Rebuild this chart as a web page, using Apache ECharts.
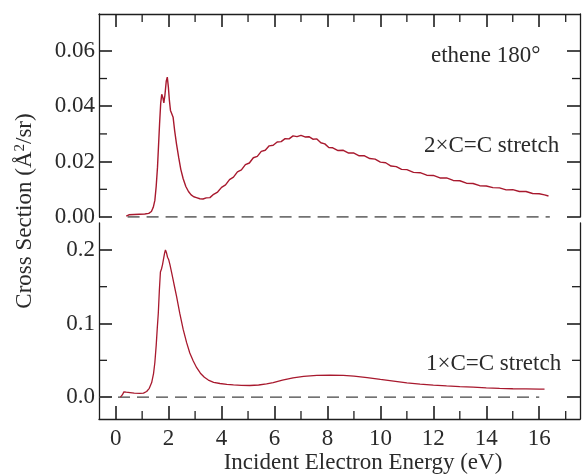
<!DOCTYPE html>
<html>
<head>
    <meta charset="utf-8" />
    <title></title>
    <script src="https://cdn.jsdelivr.net/npm/echarts@6/dist/echarts.min.js"></script>
</head>
<body style="margin:0">
    <div id="main" style="width: 582px;height:475px;"></div>
    <script type="text/javascript">
        // 2xC=C stretch (upper panel)
        var topEnergy = [0.40, 0.50, 0.70, 0.90, 1.10, 1.25, 1.35, 1.42, 1.48, 1.53, 1.58, 1.62, 1.66, 1.70, 1.74, 1.78, 1.82, 1.86, 1.91, 1.95,
            1.99, 2.03, 2.07, 2.12, 2.17, 2.23, 2.30, 2.38, 2.46, 2.55, 2.65, 2.75, 2.85, 2.95, 3.05, 3.18, 3.30, 3.42, 3.56, 3.70,
            3.85, 4.00, 4.15, 4.30, 4.45, 4.60, 4.75, 4.90, 5.05, 5.20, 5.35, 5.50, 5.65, 5.80, 5.95, 6.10, 6.25, 6.40, 6.55, 6.70,
            6.85, 7.00, 7.15, 7.30, 7.45, 7.60, 7.75, 7.90, 8.05, 8.20, 8.40, 8.60, 8.80, 9.00, 9.20, 9.40, 9.60, 9.80, 10.0, 10.2,
            10.4, 10.6, 10.8, 11.0, 11.25, 11.5, 11.75, 12.0, 12.25, 12.5, 12.75, 13.0, 13.25, 13.5, 13.75, 14.0, 14.25, 14.5, 14.75, 15.0,
            15.25, 15.5, 15.75, 16.0, 16.2, 16.35];
        var topCS = [0.0003, 0.0008, 0.0009, 0.0010, 0.0011, 0.0013, 0.0020, 0.0035, 0.0060, 0.0110, 0.0180, 0.0260, 0.0340, 0.0410, 0.0443, 0.0432, 0.0412, 0.0440, 0.0490, 0.0505,
            0.0470, 0.0420, 0.0385, 0.0388, 0.0360, 0.0310, 0.0262, 0.0215, 0.0172, 0.0138, 0.0110, 0.0092, 0.0080, 0.0073, 0.0070, 0.0066, 0.0065, 0.0069, 0.0070, 0.0082,
            0.0090, 0.0107, 0.0116, 0.0135, 0.0144, 0.0163, 0.0170, 0.0189, 0.0195, 0.0214, 0.0219, 0.0237, 0.0241, 0.0257, 0.0259, 0.0271, 0.0272, 0.0283, 0.0282, 0.0293,
            0.0290, 0.0295, 0.0289, 0.0290, 0.0281, 0.0282, 0.0268, 0.0264, 0.0251, 0.0250, 0.0240, 0.0241, 0.0231, 0.0231, 0.0221, 0.0221, 0.0211, 0.0209, 0.0198, 0.0196,
            0.0184, 0.0182, 0.0172, 0.0171, 0.0161, 0.0160, 0.0151, 0.0150, 0.0141, 0.0141, 0.0132, 0.0131, 0.0122, 0.0121, 0.0113, 0.0112, 0.0106, 0.0105, 0.0098, 0.0099,
            0.0092, 0.0092, 0.0085, 0.0084, 0.0080, 0.0076];

        // 1xC=C stretch (lower panel)
        var botEnergy = [0.18, 0.25, 0.31, 0.40, 0.54, 0.70, 0.91, 1.05, 1.17, 1.27, 1.36, 1.43, 1.48, 1.53, 1.57, 1.61, 1.65, 1.69, 1.73, 1.77,
            1.81, 1.85, 1.88, 1.92, 1.96, 2.00, 2.05, 2.12, 2.20, 2.30, 2.42, 2.55, 2.68, 2.80, 2.93, 3.06, 3.20, 3.35, 3.50, 3.70,
            3.94, 4.20, 4.45, 4.75, 5.07, 5.40, 5.70, 5.95, 6.30, 6.70, 7.10, 7.60, 8.10, 8.60, 9.00, 9.50, 10.0, 10.5, 11.0, 11.5,
            12.0, 12.5, 13.0, 13.5, 14.0, 14.5, 15.0, 15.5, 16.0, 16.2];
        var botCS = [0.000, 0.003, 0.0072, 0.0068, 0.0062, 0.0055, 0.0050, 0.0055, 0.0077, 0.0120, 0.0198, 0.0320, 0.0470, 0.0700, 0.0930, 0.1140, 0.1450, 0.1700, 0.1740, 0.1800,
            0.1880, 0.1960, 0.2000, 0.1960, 0.1900, 0.1870, 0.1800, 0.1680, 0.1540, 0.1370, 0.1140, 0.0920, 0.0740, 0.0600, 0.0490, 0.0400, 0.0325, 0.0270, 0.0232, 0.0200,
            0.0185, 0.0174, 0.0167, 0.0160, 0.0158, 0.0165, 0.0180, 0.0198, 0.0230, 0.0262, 0.0283, 0.0295, 0.0298, 0.0296, 0.0285, 0.0266, 0.0240, 0.0218, 0.0195, 0.0178,
            0.0163, 0.0152, 0.0143, 0.0135, 0.0126, 0.0118, 0.0114, 0.0112, 0.0110, 0.0110];

        // dashed zero lines (start / end energy)
        var topBase = [0.45, 16.4];
        var botBase = [-0.63, 16.0];

        // ticks
        var xMajor = [0, 2, 4, 6, 8, 10, 12, 14, 16];
        var xMinor = [1, 3, 5, 7, 9, 11, 13, 15, 17];
        var topMajor = [0, 0.02, 0.04, 0.06];
        var topMinor = [0.01, 0.03, 0.05];
        var botMajor = [0, 0.1, 0.2];
        var botMinor = [0.05, 0.15];

        var xMin = -0.63, xMax = 17.54;
        var font = 'Liberation Serif';
        var fs = 23;
        var ink = '#1e1e1e';
        var red = '#a8192e';

        function zip(a, b) {
            return a.map(function (v, i) { return [v, b[i]]; });
        }

        function xAxis(grid, pos, labels) {
            return {
                type: 'value', gridIndex: grid, position: pos, min: xMin, max: xMax,
                axisLine: { onZero: false, lineStyle: { color: ink, width: 1.3 } },
                axisTick: { inside: true, length: 13, customValues: xMajor, lineStyle: { color: ink, width: 1.6 } },
                axisLabel: { show: labels, customValues: xMajor, margin: 8, color: '#2a2a2a', fontFamily: font, fontSize: fs },
                splitLine: { show: false },
                name: labels ? 'Incident Electron Energy (eV)' : '',
                nameLocation: 'middle', nameGap: 32,
                nameTextStyle: { color: '#2a2a2a', fontFamily: font, fontSize: fs, padding: [0, 0, 0, 47] }
            };
        }

        function yAxis(grid, pos, min, max, ticks, digits) {
            return {
                type: 'value', gridIndex: grid, position: pos, min: min, max: max,
                axisLine: { onZero: false, lineStyle: { color: ink, width: 1.3 } },
                axisTick: { inside: true, length: 13, customValues: ticks, lineStyle: { color: ink, width: 1.6 } },
                axisLabel: {
                    show: pos === 'left', customValues: ticks, margin: 4, color: '#2a2a2a', fontFamily: font, fontSize: fs,
                    formatter: function (v) { return v.toFixed(digits); }
                },
                splitLine: { show: false }
            };
        }

        // minor ticks drawn on the grid edges
        function minorSeries(idx, ys, top, bottom) {
            var data = xMinor.map(function (v) { return [0, v]; })
                .concat(ys.map(function (v) { return [1, v]; }));
            return {
                type: 'custom', xAxisIndex: idx, yAxisIndex: idx * 2,
                silent: true, clip: false,
                data: data,
                renderItem: function (params, api) {
                    var cs = params.coordSys;
                    var kind = api.value(0), v = api.value(1);
                    var st = { stroke: ink, lineWidth: 1.3 };
                    var kids = [];
                    if (kind === 0) {
                        var px = api.coord([v, 0])[0];
                        if (top) kids.push({ type: 'line', shape: { x1: px, y1: cs.y, x2: px, y2: cs.y + 8 }, style: st });
                        if (bottom) kids.push({ type: 'line', shape: { x1: px, y1: cs.y + cs.height, x2: px, y2: cs.y + cs.height - 8 }, style: st });
                    } else {
                        var py = api.coord([0, v])[1];
                        kids.push({ type: 'line', shape: { x1: cs.x, y1: py, x2: cs.x + 8, y2: py }, style: st });
                        kids.push({ type: 'line', shape: { x1: cs.x + cs.width, y1: py, x2: cs.x + cs.width - 8, y2: py }, style: st });
                    }
                    return { type: 'group', children: kids };
                }
            };
        }

        function label(text, x, y) {
            return { type: 'text', left: x, top: y, style: { text: text, fill: '#2a2a2a', font: fs + 'px "' + font + '"' } };
        }

        var myChart = echarts.init(document.getElementById('main'));
        myChart.setOption({
            animation: false,
            backgroundColor: '#fff',
            grid: [
                { left: 99, right: 2, top: 14, height: 203 },
                { left: 99, right: 2, top: 223, bottom: 55 }
            ],
            xAxis: [xAxis(0, 'top', false), xAxis(1, 'bottom', true)],
            yAxis: [
                yAxis(0, 'left', 0, 0.0733, topMajor, 2),
                yAxis(0, 'right', 0, 0.0733, topMajor, 2),
                yAxis(1, 'left', -0.0297, 0.2365, botMajor, 1),
                yAxis(1, 'right', -0.0297, 0.2365, botMajor, 1)
            ],
            graphic: [
                label('ethene 180°', 431, 44),
                label('2×C=C stretch', 424, 134),
                label('1×C=C stretch', 426, 352),
                {
                    type: 'text', x: 13, y: 211, rotation: Math.PI / 2,
                    style: {
                        text: 'Cross Section (Å{s|2}/sr)', fill: '#2a2a2a', font: fs + 'px "' + font + '"',
                        align: 'center', verticalAlign: 'top',
                        rich: { s: { fontSize: 15, fontFamily: font, verticalAlign: 'top', padding: [0, 0, 9, 0] } }
                    }
                }
            ],
            series: [
                {
                    type: 'line', xAxisIndex: 0, yAxisIndex: 0, showSymbol: false, silent: true,
                    data: topBase.map(function (v) { return [v, 0]; }),
                    lineStyle: { color: '#444', width: 1.3, type: [12, 7] }
                },
                {
                    type: 'line', xAxisIndex: 1, yAxisIndex: 2, showSymbol: false, silent: true,
                    data: botBase.map(function (v) { return [v, 0]; }),
                    lineStyle: { color: '#444', width: 1.3, type: [12, 7] }
                },
                {
                    type: 'line', xAxisIndex: 0, yAxisIndex: 0, showSymbol: false, silent: true,
                    data: zip(topEnergy, topCS),
                    lineStyle: { color: red, width: 1.4 }
                },
                {
                    type: 'line', xAxisIndex: 1, yAxisIndex: 2, showSymbol: false, silent: true,
                    data: zip(botEnergy, botCS),
                    lineStyle: { color: red, width: 1.3 }
                },
                minorSeries(0, topMinor, true, false),
                minorSeries(1, botMinor, false, true)
            ]
        });
    </script>
</body>
</html>
